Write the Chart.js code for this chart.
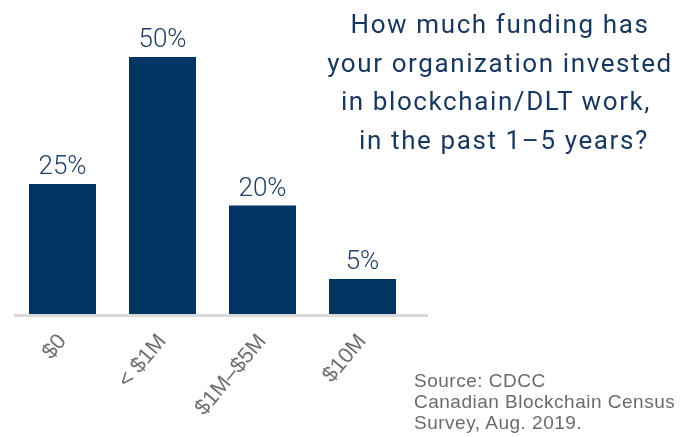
<!DOCTYPE html>
<html>
<head>
<meta charset="utf-8">
<script src="https://cdn.jsdelivr.net/npm/chart.js@4"></script>
<style>
  html, body { margin: 0; padding: 0; background: #fff; }
  #wrap { position: relative; width: 693px; height: 437px; }
  #title {
    position: absolute; left: 310px; top: 5px; width: 380px;
    text-align: center; font-family: Roboto, "Liberation Sans", sans-serif;
    font-size: 26px; line-height: 38.5px; color: #17375e; letter-spacing: 1.6px;
    white-space: pre;
  }
  #source {
    position: absolute; left: 414px; top: 370px;
    font-family: "Liberation Sans", Arial, sans-serif;
    font-size: 19px; line-height: 21px; color: #6b6b6b; letter-spacing: 0.5px;
  }
</style>
</head>
<body>
<div id="wrap">
  <canvas id="fundingChart" width="693" height="437"></canvas>
  <div id="title">How much funding has
your organization invested
in blockchain/DLT work, 
 in the past 1–5 years?</div>
  <div id="source">Source: CDCC<br>Canadian Blockchain Census<br>Survey, Aug. 2019.</div>
</div>
<script>
// Funding categories and share of respondents
const categories = ['$0', '< $1M', '$1M–$5M', '$10M'];
const shares = [25.3, 50, 21.1, 6.8];
const shareLabels = ['25%', '50%', '20%', '5%'];

// value labels above bars
const valueLabels = {
    id: 'valueLabels',
    afterDatasetsDraw(chart) {
        const ctx = chart.ctx;
        const meta = chart.getDatasetMeta(0);
        ctx.save();
        ctx.font = '300 26px Roboto, "Liberation Sans", sans-serif';
        ctx.fillStyle = '#1f3f66';
        ctx.textAlign = 'center';
        ctx.textBaseline = 'alphabetic';
        meta.data.forEach((bar, i) => {
            ctx.fillText(shareLabels[i], bar.x, bar.y - 10);
        });
        ctx.restore();
    }
};

// grey baseline, a bit longer than the plot area
const baseLine = {
    id: 'baseLine',
    afterDraw(chart) {
        const ctx = chart.ctx;
        const area = chart.chartArea;
        ctx.save();
        ctx.strokeStyle = '#d9d9d9';
        ctx.lineWidth = 3;
        ctx.beginPath();
        ctx.moveTo(area.left + 1.5, area.bottom + 1.5);
        ctx.lineTo(area.right + 15.5, area.bottom + 1.5);
        ctx.stroke();
        ctx.restore();
    }
};

const ctx = document.getElementById('fundingChart').getContext('2d');
new Chart(ctx, {
    type: 'bar',
    data: {
        labels: categories,
        datasets: [{
            data: shares,
            backgroundColor: '#003462',
            categoryPercentage: 1,
            barPercentage: 0.67
        }]
    },
    options: {
        responsive: false,
        animation: false,
        layout: {
            padding: { left: 12.5, right: 280.5, top: 5.6, bottom: 0 }
        },
        plugins: {
            legend: { display: false },
            tooltip: { enabled: false }
        },
        scales: {
            x: {
                grid: { display: false },
                border: { display: false },
                ticks: {
                    autoSkip: false,
                    minRotation: 50,
                    maxRotation: 50,
                    padding: 7,
                    color: '#707070',
                    font: { family: '"Liberation Sans", Arial, sans-serif', size: 22 }
                },
                afterFit(scale) {
                    scale.height = 123;
                }
            },
            y: {
                display: false,
                min: 0,
                max: 60
            }
        }
    },
    plugins: [valueLabels, baseLine]
});
</script>
</body>
</html>
